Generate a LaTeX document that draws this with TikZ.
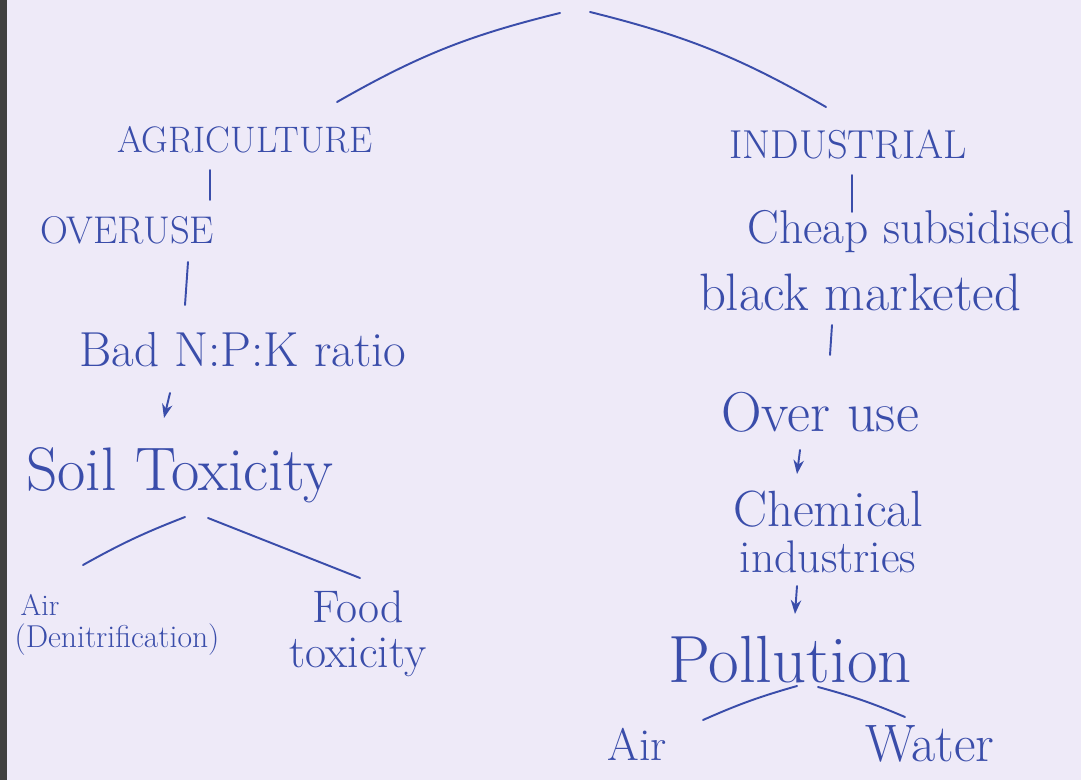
\documentclass[tikz,border=0pt]{standalone}
\usetikzlibrary{arrows.meta,calc}
\definecolor{ink}{HTML}{3A4DAA}
\definecolor{paper}{HTML}{EEEAF8}
\newcommand\fsz[1]{\fontsize{#1}{1.05\dimexpr#1pt\relax}\selectfont}

\begin{document}
\begin{tikzpicture}[>=Stealth, x=0.02cm, y=-0.02cm,
  every node/.style={text=ink, inner sep=1pt},
  link/.style={draw=ink, line width=1.1pt, line cap=round}]
\useasboundingbox (0,0) rectangle (1081,780);
\fill[paper] (0,0) rectangle (1081,780);
\fill[black!75] (0,0) rectangle (7,780);
\coordinate (rootL) at (560,13);
\coordinate (rootR) at (590,12);
% agriculture side
\node (agri) at (245,140) {\fsz{21}AGRICULTURE};
\node (overuse) at (127,230) {\fsz{22}OVERUSE};
\node (npk) at (243,350) {\fsz{28}Bad N:P:K ratio};
\node (soil) at (180,475) {\fsz{35}Soil Toxicity};
\node (airL) at (40,605) {\fsz{17}Air};
\node (denit) at (117,640) {\fsz{18}(Denitrification)};
\node[align=center, font=\fsz{26}] (food) at (358,634) {Food\\[-2pt]toxicity};
% industrial side
\node (indus) at (848,145) {\fsz{23}INDUSTRIAL};
\node (cheap) at (911,232) {\fsz{27}Cheap subsidised};
\node (black) at (860,292) {\fsz{30}black marketed};
\node (overuse2) at (820,412) {\fsz{32}Over use};
\node[align=center, font=\fsz{29}] (chem) at (828,532) {Chemical\\[-4pt]{\fsz{26}industries}};
\node (poll) at (790,660) {\fsz{38}Pollution};
\node (airR) at (637,744) {\fsz{26}Air};
\node (water) at (930,744) {\fsz{30}Water};
% connectors
\draw[link] (rootL) to[bend right=8] ($(agri)+(92,-38)$);
\draw[link] (rootR) to[bend left=8] ($(indus)+(-22,-38)$);
\draw[link] ($(agri)+(-35,30)$) -- ($(overuse)+(83,-30)$);
\draw[link] ($(overuse)+(61,32)$) -- ($(npk)+(-58,-45)$);
\draw[link,->] ($(npk)+(-73,43)$) -- ($(soil)+(-16,-57)$);
\draw[link] ($(soil)+(5,42)$) to[bend right=4] ($(airL)+(43,-40)$);
\draw[link] ($(soil)+(28,43)$) -- ($(food)+(2,-56)$);
\draw[link] ($(indus)+(4,30)$) -- ($(cheap)+(-59,-20)$);
\draw[link] ($(black)+(-28,33)$) -- ($(overuse2)+(10,-57)$);
\draw[link,->] ($(overuse2)+(-20,38)$) -- ($(chem)+(-31,-58)$);
\draw[link,->] ($(chem)+(-31,54)$) -- ($(poll)+(5,-46)$);
\draw[link] ($(poll)+(7,26)$) to[bend right=4] ($(airR)+(66,-24)$);
\draw[link] ($(poll)+(28,27)$) to[bend left=4] ($(water)+(-25,-27)$);
\end{tikzpicture}
\end{document}
